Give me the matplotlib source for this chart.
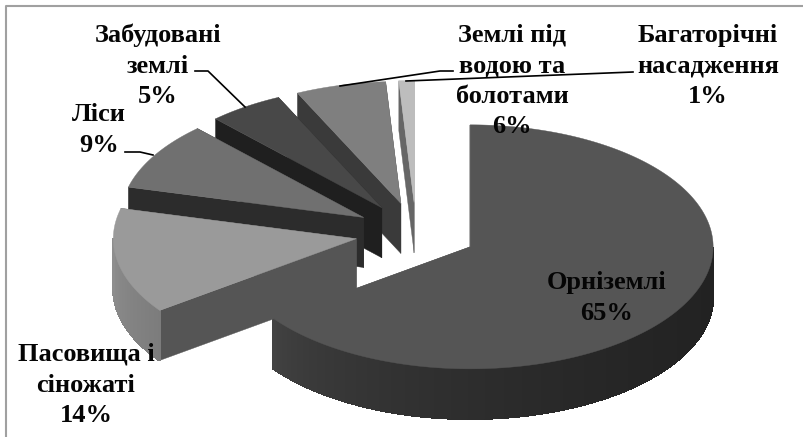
import numpy as np
import matplotlib.pyplot as plt
from matplotlib.colors import to_rgb

# дані діаграми
names = ['Орніземлі', 'Пасовища і\nсіножаті', 'Ліси', 'Забудовані\nземлі',
         'Землі під\nводою та\nболотами', 'Багаторічні\nнасадження']
values = [65, 14, 9, 5, 6, 1]
top_colors = ['#555555', '#9a9a9a', '#707070', '#484848', '#7f7f7f', '#bdbdbd']
cut_colors = ['#555555', '#555555', '#2c2c2c', '#1f1f1f', '#3a3a3a', '#666666']
wall_left = ['#444444', '#8e8e8e', '#555555', '#333333', '#555555', '#888888']
wall_right = ['#222222', '#7c7c7c', '#444444', '#2a2a2a', '#444444', '#777777']

W, H = 804, 437
CX, CY, RX, RY = 416, 233, 243, 122  # центр і радіуси у пікселях
EXPLODE = 0.25
DEPTH = 50 / RY

fig = plt.figure(figsize=(W / 100, H / 100), dpi=100)
ax = fig.add_axes([0, 0, 1, 1])
ax.set_xlim(-CX / RX, (W - CX) / RX)
ax.set_ylim((CY - H) / RY, CY / RY)
ax.axis('off')


def px(x, y):
    return (x - CX) / RX, (CY - y) / RY


def slice_points(a0, a1):
    mid = np.radians((a0 + a1) / 2)
    ox, oy = EXPLODE * np.sin(mid), EXPLODE * np.cos(mid)
    t = np.radians(np.linspace(a0, a1, max(int(a1 - a0) * 2, 6)))
    return ox, oy, ox + np.sin(t), oy + np.cos(t)


edges = np.cumsum([0] + values) * 3.6

# спочатку велика частка, далі від задніх до передніх
for order, i in enumerate([0, 5, 4, 3, 2, 1]):
    ox, oy, rim_x, rim_y = slice_points(edges[i], edges[i + 1])
    z = order + 1

    # зрізи
    for k in [0, -1]:
        fx = [ox, rim_x[k], rim_x[k], ox]
        fy = [oy, rim_y[k], rim_y[k] - DEPTH, oy - DEPTH]
        ax.fill(fx, fy, color=cut_colors[i], lw=0.3, zorder=z)

    # зовнішня стінка з градієнтом зліва направо, лише передня половина дуги
    left, right = np.array(to_rgb(wall_left[i])), np.array(to_rgb(wall_right[i]))
    lo, hi = rim_x.min(), rim_x.max()
    for j in range(len(rim_x) - 1):
        if rim_y[j] + rim_y[j + 1] > 2 * oy:
            continue
        f = (((rim_x[j] + rim_x[j + 1]) / 2 - lo) / (hi - lo)) ** 0.5
        c = left + (right - left) * f
        fx = [rim_x[j], rim_x[j + 1], rim_x[j + 1], rim_x[j]]
        fy = [rim_y[j], rim_y[j + 1], rim_y[j + 1] - DEPTH, rim_y[j] - DEPTH]
        ax.fill(fx, fy, color=c, lw=1, antialiased=False, zorder=z)

    # верх
    ax.fill(np.r_[ox, rim_x], np.r_[oy, rim_y], color=top_colors[i], lw=0.3, zorder=z)

# рамка
ax.plot(*zip(px(6, H), px(6, 6), px(W, 6)), color='#a0a0a0', lw=1.5, zorder=10)

# виноски
leaders = [[(125, 152), (140, 152), (153, 155)],
           [(195, 71), (208, 71), (245, 107)],
           [(453, 71), (440, 71), (340, 86)],
           [(633, 72), (406, 81)]]
for line in leaders:
    ax.plot(*zip(*[px(x, y) for x, y in line]), color='black', lw=1.2, zorder=11)

# підписи
label_pos = [(607, 298), (86, 385), (99, 130), (158, 66), (512, 81), (708, 66)]
for n, v, (x, y) in zip(names, values, label_pos):
    lx, ly = px(x, y)
    ax.text(lx, ly, n + '\n' + str(v) + '%', ha='center', va='center',
            family='Liberation Serif', fontweight='bold', fontsize=19,
            linespacing=1.42, color='#050505', zorder=12)

fig.savefig('out.png', dpi=100)
